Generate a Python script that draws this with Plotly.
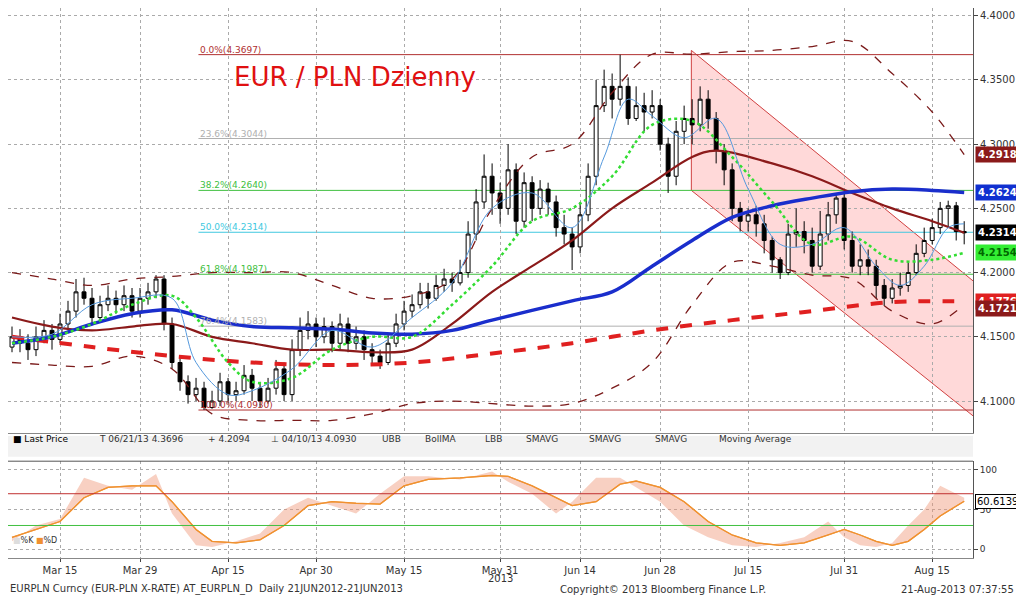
import pandas as pd
import plotly.graph_objects as go

dates = [d.strftime("%Y-%m-%d") for d in pd.bdate_range("2013-03-07", "2013-08-21")]

closes = [4.150,4.145,4.140,4.150,4.155,4.148,4.160,
 4.170,4.185,4.180,4.165,4.175, 4.180,4.175,4.182,4.170,4.180,
 4.185,4.195,4.160,4.130,4.115, 4.105,4.110,4.095,4.100,4.115,
 4.105,4.108,4.120,4.110,4.100, 4.110,4.125,4.105,4.140,4.155,
 4.160,4.150,4.158,4.145,4.160, 4.145,4.150,4.140,4.135,4.130,
 4.145,4.160,4.170,4.175,4.185, 4.180,4.190,4.195,4.192,4.200,
 4.230,4.255,4.275,4.262,4.250, 4.280,4.240,4.270,4.250,4.265,
 4.255,4.235,4.230,4.220,4.245, 4.275,4.330,4.345,4.335,4.345,
 4.320,4.330,4.325,4.330,4.300, 4.275,4.310,4.320,4.315,4.335,
 4.320,4.295,4.280,4.250,4.240, 4.245,4.238,4.225,4.210,4.200,
 4.230,4.232,4.225,4.205,4.230, 4.245,4.258,4.225,4.205,4.210,
 4.205,4.190,4.180,4.188,4.190, 4.200,4.215,4.225,4.235,4.250,
 4.252,4.232,4.231]
opens = [4.142,4.150,4.145,4.140,4.150,4.155,4.148,
 4.160,4.170,4.185,4.180,4.165, 4.175,4.180,4.175,4.182,4.170,
 4.180,4.185,4.195,4.160,4.130, 4.115,4.105,4.110,4.095,4.100,
 4.115,4.105,4.108,4.120,4.110, 4.100,4.110,4.125,4.105,4.140,
 4.155,4.160,4.150,4.158,4.145, 4.160,4.145,4.150,4.140,4.135,
 4.130,4.145,4.160,4.170,4.175, 4.185,4.180,4.190,4.195,4.192,
 4.200,4.230,4.255,4.275,4.262, 4.250,4.280,4.240,4.270,4.250,
 4.265,4.255,4.235,4.230,4.220, 4.245,4.275,4.330,4.345,4.335,
 4.345,4.320,4.330,4.325,4.330, 4.300,4.275,4.310,4.320,4.315,
 4.335,4.320,4.295,4.280,4.250, 4.240,4.245,4.238,4.225,4.210,
 4.200,4.230,4.232,4.225,4.205, 4.230,4.245,4.258,4.225,4.205,
 4.210,4.205,4.190,4.180,4.188, 4.190,4.200,4.215,4.225,4.235,
 4.250,4.252,4.232]
highs = [4.158,4.156,4.152,4.158,4.163,4.160,4.168,
 4.178,4.195,4.196,4.188,4.182, 4.190,4.186,4.190,4.188,4.188,
 4.192,4.198,4.198,4.165,4.135, 4.120,4.118,4.115,4.108,4.122,
 4.118,4.115,4.128,4.125,4.115, 4.118,4.132,4.130,4.148,4.165,
 4.170,4.165,4.165,4.162,4.168, 4.165,4.158,4.155,4.145,4.140,
 4.152,4.168,4.178,4.183,4.192, 4.192,4.198,4.203,4.200,4.210,
 4.240,4.265,4.292,4.285,4.270, 4.300,4.285,4.278,4.275,4.272,
 4.270,4.260,4.245,4.235,4.255, 4.285,4.350,4.358,4.355,4.3696,
 4.352,4.345,4.340,4.342,4.335, 4.305,4.318,4.330,4.335,4.345,
 4.342,4.325,4.300,4.285,4.255, 4.250,4.252,4.245,4.228,4.212,
 4.238,4.250,4.240,4.235,4.248, 4.255,4.262,4.262,4.232,4.222,
 4.218,4.210,4.195,4.195,4.200, 4.208,4.222,4.235,4.242,4.255,
 4.256,4.255,4.240]
lows = [4.138,4.138,4.132,4.135,4.145,4.140,4.145,
 4.155,4.165,4.175,4.160,4.162, 4.170,4.168,4.170,4.165,4.165,
 4.175,4.180,4.155,4.125,4.108, 4.098,4.100,4.093,4.094,4.096,
 4.098,4.100,4.105,4.100,4.095, 4.098,4.105,4.100,4.100,4.135,
 4.148,4.142,4.145,4.138,4.140, 4.138,4.140,4.132,4.128,4.125,
 4.128,4.142,4.155,4.165,4.172, 4.172,4.178,4.185,4.185,4.190,
 4.196,4.225,4.250,4.245,4.238, 4.245,4.230,4.235,4.240,4.245,
 4.245,4.228,4.222,4.202,4.215, 4.240,4.268,4.325,4.320,4.330,
 4.315,4.318,4.310,4.320,4.295, 4.262,4.268,4.300,4.300,4.310,
 4.312,4.285,4.268,4.240,4.232, 4.232,4.228,4.215,4.200,4.195,
 4.198,4.220,4.215,4.200,4.202, 4.225,4.238,4.218,4.200,4.198,
 4.198,4.180,4.174,4.176,4.182, 4.185,4.198,4.212,4.222,4.230,
 4.235,4.225,4.222]

sma_slow_idx = [0,5,10,15,20,25,30,35,40,45,50,55,60,70,75,80,85,90,95,100,105,110,115,119]
sma_slow = [4.145,4.150,4.160,4.168,4.171,4.163,4.158,4.157,4.156,4.153,4.152,4.155,4.163,4.178,4.185,4.205,4.225,4.243,4.252,4.258,4.263,4.265,4.264,4.2624]
boll_idx = [0,5,10,15,20,25,30,35,40,45,50,55,60,65,70,75,80,85,88,95,100,105,110,115,119]
boll_ma = [4.165,4.158,4.155,4.158,4.160,4.150,4.145,4.140,4.140,4.138,4.140,4.160,4.185,4.205,4.225,4.250,4.270,4.290,4.295,4.285,4.275,4.262,4.250,4.240,4.231]
band_idx = [0,5,10,15,20,25,30,35,40,45,50,55,60,65,70,75,80,85,90,95,100,105,110,115,119]
ubb = [4.200,4.195,4.190,4.195,4.197,4.200,4.200,4.200,4.190,4.180,4.182,4.195,4.250,4.290,4.300,4.340,4.370,4.370,4.372,4.373,4.376,4.380,4.355,4.325,4.2918]
lbb = [4.130,4.128,4.127,4.135,4.125,4.090,4.085,4.085,4.085,4.090,4.098,4.100,4.098,4.096,4.098,4.110,4.130,4.175,4.208,4.205,4.198,4.195,4.170,4.160,4.175]
ma200_idx = [0,10,20,30,40,50,60,70,80,90,100,110,119]
ma200 = [4.150,4.142,4.135,4.130,4.128,4.130,4.137,4.145,4.155,4.163,4.170,4.177,4.1776]
sma_mid_idx = [0,5,10,15,20,23,27,30,35,40,45,50,55,60,65,70,75,80,85,90,95,100,105,110,115,119]
sma_mid = [4.145,4.150,4.160,4.175,4.182,4.165,4.130,4.115,4.118,4.140,4.150,4.150,4.175,4.205,4.240,4.250,4.275,4.315,4.318,4.290,4.255,4.222,4.228,4.210,4.210,4.2154]
sma_fast_idx = [0,5,10,15,20,23,27,30,35,40,45,50,55,60,65,70,74,77,80,84,88,92,96,100,104,108,111,114,117,119]
sma_fast = [4.150,4.152,4.175,4.180,4.180,4.130,4.105,4.108,4.125,4.155,4.142,4.165,4.192,4.250,4.262,4.235,4.290,4.335,4.322,4.305,4.320,4.265,4.222,4.222,4.235,4.205,4.190,4.205,4.235,4.238]

stoch_idx = [0,3,6,9,12,15,18,20,23,25,28,31,34,37,40,43,46,49,52,56,60,62,65,68,70,73,76,78,81,84,87,90,93,96,99,102,104,106,108,110,112,114,116,119]
stoch_d = [15,25,35,65,78,80,80,60,25,10,8,12,30,55,60,58,57,80,88,90,93,92,80,65,55,60,82,86,78,60,35,18,8,5,8,18,25,18,10,5,10,25,42,60.6139]
stoch_k = [10,30,38,90,80,75,95,45,5,3,10,20,50,65,55,45,70,92,92,88,98,85,70,45,60,90,90,78,60,30,15,5,3,8,15,35,15,5,3,8,30,50,80,65]

fib_levels = [4.3697, 4.3044, 4.2640, 4.2314, 4.1987, 4.1583, 4.0930]
fib_labels = ["0.0%(4.3697)", "23.6%(4.3044)", "38.2%(4.2640)", "50.0%(4.2314)", "61.8%(4.1987)", "76.4%(4.1583)", "100.0%(4.0930)"]
fib_colors = ["#b03030", "#b0b0b0", "#40c040", "#40c8e0", "#40c040", "#b0b0b0", "#b03030"]

tick_dates = ["2013-03-15","2013-03-29","2013-04-15","2013-04-30","2013-05-15","2013-05-31","2013-06-14","2013-06-28","2013-07-15","2013-07-31","2013-08-15"]
tick_text = ["Mar 15","Mar 29","Apr 15","Apr 30","May 15","May 31","Jun 14","Jun 28","Jul 15","Jul 31","Aug 15"]

tags = [(4.2918, "#8b1a1a", "white"), (4.2624, "#1030d0", "white"), (4.2314, "black", "white"),
        (4.2154, "#33ee33", "#006600"), (4.1776, "#e02020", "white"), (4.1721, "#8b1a1a", "white")]

def dx(idx):
    return [dates[i] for i in idx]

fig = go.Figure()
fig.add_shape(type="path", path="M 84.9,4.373 L 120.8,4.190 L 120.8,4.085 L 84.9,4.264 Z",
              xref="x", yref="y", fillcolor="rgba(255,160,160,0.4)",
              line=dict(color="#d04040", width=1), layer="below")
for lv, lb, c in zip(fib_levels, fib_labels, fib_colors):
    fig.add_shape(type="line", xref="x", yref="y", x0=23.3, x1=122, y0=lv, y1=lv,
                  line=dict(color=c, width=1), layer="below")
    fig.add_annotation(x=23.3, y=lv, xref="x", yref="y", text=lb, showarrow=False,
                       xanchor="left", yanchor="bottom", font=dict(size=9, color=c), yshift=-2)

fig.add_trace(go.Scatter(x=dx(band_idx), y=ubb, mode="lines", line=dict(color="#7a1a1a", width=1.3, dash="dash", shape="spline")))
fig.add_trace(go.Scatter(x=dx(band_idx), y=lbb, mode="lines", line=dict(color="#7a1a1a", width=1.3, dash="dash", shape="spline")))
fig.add_trace(go.Scatter(x=dx(ma200_idx), y=ma200, mode="lines", line=dict(color="#e02020", width=4, dash="dash", shape="spline")))
fig.add_trace(go.Scatter(x=dx(boll_idx), y=boll_ma, mode="lines", line=dict(color="#8b1a1a", width=2.2, shape="spline")))
fig.add_trace(go.Scatter(x=dx(sma_slow_idx), y=sma_slow, mode="lines", line=dict(color="#1a2ecc", width=3.5, shape="spline")))
fig.add_trace(go.Candlestick(x=dates, open=opens, high=highs, low=lows, close=closes,
    increasing=dict(line=dict(color="black", width=1), fillcolor="white"),
    decreasing=dict(line=dict(color="black", width=1), fillcolor="black"), whiskerwidth=0))
fig.add_trace(go.Scatter(x=dx(sma_mid_idx), y=sma_mid, mode="lines", line=dict(color="#33dd33", width=2.5, dash="dot", shape="spline")))
fig.add_trace(go.Scatter(x=dx(sma_fast_idx), y=sma_fast, mode="lines", line=dict(color="#5599dd", width=1, shape="spline")))

fig.add_trace(go.Scatter(x=dx(stoch_idx), y=stoch_d, mode="lines", line=dict(color="#f0a040", width=1.2), xaxis="x2", yaxis="y2"))
fig.add_trace(go.Scatter(x=dx(stoch_idx), y=stoch_k, mode="lines", line=dict(color="rgba(0,0,0,0)", width=0),
                         fill="tonexty", fillcolor="rgba(240,150,120,0.45)", xaxis="x2", yaxis="y2"))
fig.add_trace(go.Scatter(x=dx(stoch_idx), y=stoch_d, mode="lines", line=dict(color="#f09030", width=1.3), xaxis="x2", yaxis="y2"))
for v, c in [(70, "#c03030"), (30, "#40c040")]:
    fig.add_shape(type="line", xref="x2", yref="y2", x0=-1, x1=122, y0=v, y1=v, line=dict(color=c, width=1))

for v, bg, fc in tags:
    fig.add_annotation(x=1.0, xref="paper", y=v, yref="y", text="<b>%.4f</b>" % v, showarrow=False,
                       xanchor="left", xshift=2, bgcolor=bg, font=dict(color=fc, size=10), borderpad=2)
fig.add_annotation(x=1.0, xref="paper", y=60.6139, yref="y2", text="60.6139", showarrow=False,
                   xanchor="left", xshift=2, bgcolor="white", bordercolor="black", font=dict(size=10, color="black"), borderpad=1)

fig.add_annotation(x=0.36, y=0.905, xref="paper", yref="paper", text="EUR / PLN Dzienny", showarrow=False,
                   font=dict(size=26, color="#e01010", family="DejaVu Sans"))

fig.add_shape(type="rect", xref="paper", yref="paper", x0=0, x1=1, y0=0.184, y1=0.222,
              fillcolor="#f2f2f2", line=dict(width=0))
legend_items = [(0.003, "■ Last Price", "black"), (0.092, "T 06/21/13 4.3696", "#333"), (0.205, "+ 4.2094", "#333"),
                (0.27, "⊥ 04/10/13 4.0930", "#333"), (0.385, "UBB", "#333"), (0.43, "BollMA", "#333"),
                (0.492, "LBB", "#333"), (0.535, "SMAVG", "#333"), (0.6, "SMAVG", "#333"),
                (0.668, "SMAVG", "#333"), (0.735, "Moving Average", "#333")]
for x, t, c in legend_items:
    fig.add_annotation(x=x, y=0.203, xref="paper", yref="paper", text=t, showarrow=False, xanchor="left",
                       font=dict(size=9, color=c))
fig.add_annotation(x=0.003, y=0.02, xref="paper", yref="paper", text="<span style='color:#ddd'>■</span>%K <span style='color:#f09030'>■</span>%D",
                   showarrow=False, xanchor="left", font=dict(size=8, color="#333"))
fig.add_annotation(x="2013-05-31", y=-0.05, xref="x2", yref="paper", text="2013", showarrow=False, font=dict(size=10, color="#333"))
fig.add_annotation(x=0, y=-0.07, xref="paper", yref="paper", text="EURPLN Curncy (EUR-PLN X-RATE) AT_EURPLN_D  Daily 21JUN2012-21JUN2013",
                   showarrow=False, xanchor="left", font=dict(size=10, color="#333"))
fig.add_annotation(x=0.57, y=-0.07, xref="paper", yref="paper", text="Copyright© 2013 Bloomberg Finance L.P.",
                   showarrow=False, xanchor="left", font=dict(size=10, color="#333"))
fig.add_annotation(x=1.045, y=-0.07, xref="paper", yref="paper", text="21-Aug-2013 07:37:55",
                   showarrow=False, xanchor="right", font=dict(size=10, color="#333"))

common_x = dict(type="category", categoryorder="array", categoryarray=dates, range=[-0.5, 120.1],
                tickvals=tick_dates, ticktext=tick_text,
                showgrid=True, gridcolor="#aaaaaa", griddash="dot", zeroline=False,
                showline=True, linecolor="#888")
fig.update_layout(
    width=1024, height=597, margin=dict(l=0, r=59, t=0, b=47),
    paper_bgcolor="white", plot_bgcolor="white", showlegend=False,
    font=dict(family="DejaVu Sans", size=10, color="#333"),
    xaxis=dict(**common_x, domain=[0, 1], anchor="y", showticklabels=False, rangeslider=dict(visible=False)),
    yaxis=dict(domain=[0.227, 1], range=[4.075, 4.406], side="right", dtick=0.05, tickformat=".4f",
               showgrid=True, gridcolor="#aaaaaa", griddash="dot", zeroline=False, ticks="outside", ticklen=4,
               showline=True, linecolor="#555", tickfont=dict(size=10)),
    xaxis2=dict(**common_x, domain=[0, 1], anchor="y2", matches="x", ticks="outside", ticklen=3, tickfont=dict(size=10)),
    yaxis2=dict(domain=[0, 0.176], range=[-11, 111], side="right", tickvals=[0, 50, 100],
                showgrid=True, gridcolor="#aaaaaa", griddash="dot", zeroline=False, ticks="outside", ticklen=4,
                showline=True, linecolor="#555", tickfont=dict(size=9)),
)
fig.add_shape(type="line", xref="paper", yref="paper", x0=0, x1=1, y0=0.176, y1=0.176, line=dict(color="#555", width=1))
fig.write_html("out.html")
